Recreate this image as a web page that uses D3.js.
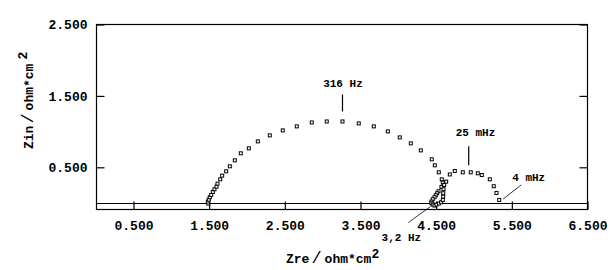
<!DOCTYPE html>
<html>
<head>
<meta charset="utf-8">
<script src="https://d3js.org/d3.v7.min.js"></script>
<style>
    body { margin: 0; background: white; }
    text { font-family: "Liberation Mono", "DejaVu Sans Mono", monospace; font-weight: bold; fill: black; }
    .tick line { stroke: black; stroke-width: 1.2; }
</style>
</head>
<body>
<div id="chart"></div>
<script>
    // impedance spectrum, high frequency first
    var zre = [1.487, 1.482, 1.495, 1.508, 1.527, 1.548, 1.570, 1.597, 1.610, 1.646, 1.672, 1.725,
        1.773, 1.839, 1.918, 2.024, 2.143, 2.301, 2.473, 2.658, 2.856, 3.054, 3.262, 3.477, 3.676,
        3.861, 4.019, 4.165, 4.297, 4.442, 4.482, 4.535, 4.574, 4.588, 4.570, 4.531, 4.513, 4.495,
        4.478, 4.455, 4.438, 4.438, 4.455, 4.478, 4.504, 4.535, 4.566, 4.588, 4.593, 4.593, 4.597,
        4.606, 4.632, 4.680, 4.746, 4.852, 4.957, 5.050, 5.103, 5.209, 5.261, 5.297, 5.333];
    var zim = [-0.008, 0.020, 0.047, 0.081, 0.113, 0.155, 0.193, 0.229, 0.271, 0.332, 0.383, 0.444,
        0.514, 0.598, 0.696, 0.765, 0.863, 0.947, 1.017, 1.073, 1.128, 1.142, 1.142, 1.115, 1.073,
        1.003, 0.919, 0.835, 0.737, 0.612, 0.528, 0.430, 0.332, 0.285, 0.225, 0.165, 0.137, 0.109,
        0.081, 0.053, 0.020, -0.003, -0.022, -0.036, -0.022, -0.008, 0.011, 0.043, 0.089, 0.137, 0.193,
        0.253, 0.299, 0.400, 0.448, 0.430, 0.430, 0.416, 0.392, 0.332, 0.235, 0.141, 0.043];

    var xTicks = [0.5, 1.5, 2.5, 3.5, 4.5, 5.5, 6.5];
    var yTicks = [0.5, 1.5, 2.5];

    // frequency labels and the point they point at
    var annText = ["316 Hz", "25 mHz", "4 mHz", "3,2 Hz"];
    var annZre = [3.262, 4.93, 5.333, 4.45];
    var annZim = [1.142, 0.43, 0.043, -0.036];

    var width = 612, height = 270;
    var pLeft = 96.5, pRight = 587.5, pTop = 24.5, pBottom = 209.5;

    var svg = d3.select("#chart").append("svg")
        .attr("width", width)
        .attr("height", height)
        .style("background", "white");

    var xs = d3.scaleLinear().domain([0.011, 6.5]).range([pLeft, pRight]);
    var ys = d3.scaleLinear().domain([-0.091, 2.5]).range([pBottom, pTop]);

    // axes, ticks pointing inward
    var yAxis = d3.axisLeft(ys).tickValues(yTicks).tickSize(-8).tickPadding(9).tickFormat(d3.format(".3f"));
    var yg = svg.append("g").attr("transform", "translate(" + pLeft + ",0)").call(yAxis);
    var yr = svg.append("g").attr("transform", "translate(" + pRight + ",0)")
        .call(d3.axisRight(ys).tickValues(yTicks).tickSize(-8).tickFormat(""));
    var xAxis = d3.axisBottom(xs).tickValues(xTicks).tickSize(-8).tickPadding(11).tickFormat(d3.format(".3f"));
    var xg = svg.append("g").attr("transform", "translate(0," + pBottom + ")").call(xAxis);

    [yg, yr, xg].forEach(function (g) {
        g.select(".domain").remove();
        g.attr("font-family", null);
        g.selectAll("text").style("font-size", "13px");
    });

    // frame
    svg.append("rect")
        .attr("x", pLeft).attr("y", pTop)
        .attr("width", pRight - pLeft).attr("height", pBottom - pTop)
        .attr("fill", "none").attr("stroke", "black").attr("stroke-width", 1.2);

    // zero line
    svg.append("line")
        .attr("x1", pLeft).attr("x2", pRight)
        .attr("y1", Math.round(ys(0)) + 0.5).attr("y2", Math.round(ys(0)) + 0.5)
        .attr("stroke", "black").attr("stroke-width", 1.2);

    // points
    var pts = zre.map(function (d, i) { return { x: d, y: zim[i] }; });
    svg.selectAll("rect.pt")
        .data(pts)
        .enter()
        .append("rect")
        .attr("class", "pt")
        .attr("x", function (d) { return xs(d.x) - 1.5; })
        .attr("y", function (d) { return ys(d.y) - 1.5; })
        .attr("width", 3).attr("height", 3)
        .attr("fill", "white").attr("stroke", "black").attr("stroke-width", 1);

    // annotations: leader line offsets and text offsets in px
    var annStyle = [
        { l: [0, -10, 0, -27], t: [0.5, -34], a: "middle" },
        { l: [0, -7, 0, -26], t: [-13, -36], a: "start" },
        { l: [4, -1, 22, -15], t: [13, -19], a: "start" },
        { l: [-2, 1, -24, 17], t: [-31, 35], a: "middle" }
    ];
    annText.forEach(function (t, i) {
        var px = xs(annZre[i]), py = ys(annZim[i]), s = annStyle[i];
        svg.append("line")
            .attr("x1", px + s.l[0]).attr("y1", py + s.l[1])
            .attr("x2", px + s.l[2]).attr("y2", py + s.l[3])
            .attr("stroke", "black").attr("stroke-width", i < 2 ? 1.2 : 0.8);
        svg.append("text")
            .attr("x", px + s.t[0]).attr("y", py + s.t[1])
            .attr("text-anchor", s.a)
            .style("font-size", "11px")
            .text(t);
    });

    // axis titles
    var xt = svg.append("text")
        .attr("x", 286).attr("y", 263)
        .style("font-size", "13px");
    xt.append("tspan").text("Zre");
    xt.append("tspan").attr("dx", 2).style("font-size", "17px").style("font-weight", "normal").text("/");
    xt.append("tspan").attr("dx", 3).text("ohm*cm");
    xt.append("tspan").attr("dx", 0).attr("dy", -5).text("2");

    var yt = svg.append("text")
        .attr("transform", "translate(33,149) rotate(-90)")
        .style("font-size", "13px");
    yt.append("tspan").text("Zin");
    yt.append("tspan").attr("dx", 2).style("font-size", "17px").style("font-weight", "normal").text("/");
    yt.append("tspan").attr("dx", 3).text("ohm*cm");
    yt.append("tspan").attr("dx", 4).attr("dy", -6).text("2");
</script>
</body>
</html>
